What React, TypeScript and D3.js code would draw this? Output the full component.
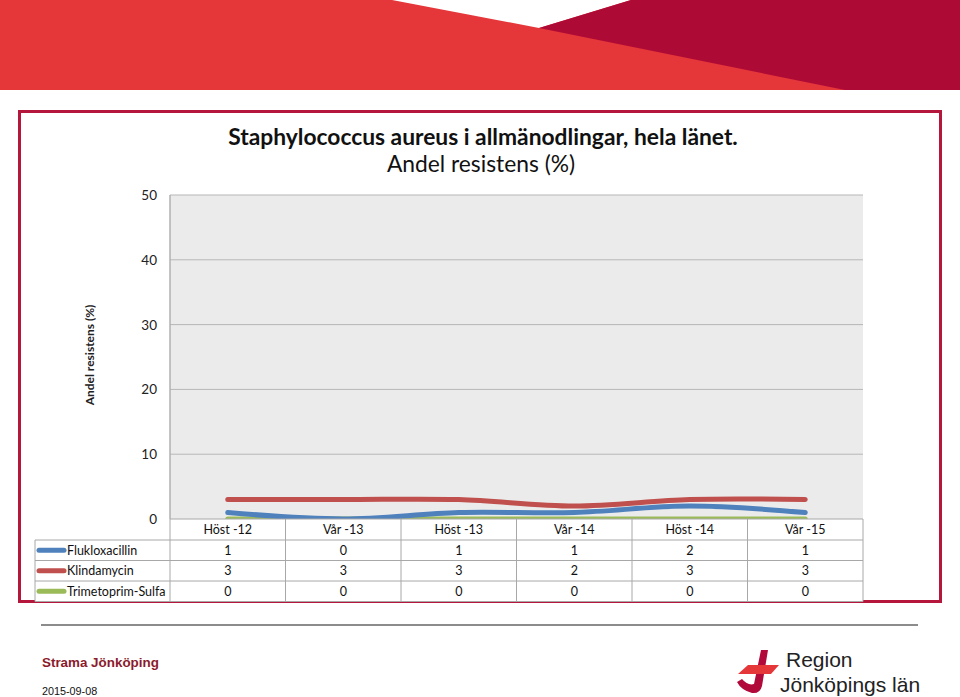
import { useEffect, useRef } from "react";
import * as d3 from "d3";

const periods = ["Höst -12", "Vår -13", "Höst -13", "Vår -14", "Höst -14", "Vår -15"];
const seriesNames = ["Flukloxacillin", "Klindamycin", "Trimetoprim-Sulfa"];
const flukloxacillin = [1, 0, 1, 1, 2, 1];
const klindamycin = [3, 3, 3, 2, 3, 3];
const trimetoprim = [0, 0, 0, 0, 0, 0];
const seriesColors = ["#4f81bd", "#c0504d", "#9bbb59"];
const yTicks = [0, 10, 20, 30, 40, 50];

const W = 960;
const H = 697;
const FONT = "Lato, 'Open Sans', sans-serif";
const ARIAL = "'Liberation Sans', Arial, sans-serif";

export default function App() {
  const svgRef = useRef<SVGSVGElement | null>(null);

  useEffect(() => {
    if (!svgRef.current) return;
    const svg = d3.select(svgRef.current);
    svg.selectAll("*").remove();

    // banner
    svg.append("rect").attr("x", 0).attr("y", 0).attr("width", W).attr("height", 90).attr("fill", "#e5363a");
    svg.append("polygon").attr("points", "392,0 631,0 539,28").attr("fill", "#fff");
    svg.append("polygon").attr("points", "631,0 960,0 960,90 845,90 539,28").attr("fill", "#ae0a36");

    // red frame
    svg.append("rect")
      .attr("x", 19.5).attr("y", 111.5).attr("width", 921).attr("height", 490)
      .attr("fill", "#fff").attr("stroke", "#b5163b").attr("stroke-width", 3);

    // titles
    svg.append("text").attr("x", 483).attr("y", 145).attr("text-anchor", "middle")
      .attr("font-family", FONT).attr("font-size", 22.8).attr("font-weight", "bold").attr("fill", "#111")
      .text("Staphylococcus aureus i allmänodlingar, hela länet.");
    svg.append("text").attr("x", 481).attr("y", 172).attr("text-anchor", "middle")
      .attr("font-family", FONT).attr("font-size", 22.8).attr("fill", "#111")
      .text("Andel resistens (%)");

    const x0 = 170, x1 = 863, yTop = 195, yBot = 519;
    const y = d3.scaleLinear().domain([0, 50]).range([yBot, yTop]);
    const x = d3.scaleBand<string>().domain(periods).range([x0, x1]);
    const cx = (p: string) => (x(p) ?? 0) + x.bandwidth() / 2;

    // plot area
    svg.append("rect").attr("x", x0).attr("y", yTop).attr("width", x1 - x0).attr("height", yBot - yTop).attr("fill", "#ebebeb");
    svg.append("g").selectAll("line").data(yTicks.filter(t => t > 0)).join("line")
      .attr("x1", x0).attr("x2", x1).attr("y1", d => y(d)).attr("y2", d => y(d))
      .attr("stroke", "#b7b7b7").attr("stroke-width", 1);
    svg.append("line").attr("x1", x0).attr("x2", x0).attr("y1", yTop).attr("y2", yBot).attr("stroke", "#b0b0b0").attr("stroke-width", 1.5);

    svg.append("g").selectAll("text").data(yTicks).join("text")
      .attr("x", 157).attr("y", d => y(d) + 5).attr("text-anchor", "end")
      .attr("font-family", FONT).attr("font-size", 13.5).attr("fill", "#222")
      .text(d => d);

    svg.append("text").attr("transform", "translate(94,355) rotate(-90)").attr("text-anchor", "middle")
      .attr("font-family", FONT).attr("font-size", 12).attr("font-weight", "bold").attr("fill", "#222")
      .text("Andel resistens (%)");

    // lines
    const allSeries = [flukloxacillin, klindamycin, trimetoprim];
    const line = d3.line<number>()
      .x((_, i) => cx(periods[i]))
      .y(d => y(d))
      .curve(d3.curveCatmullRom.alpha(0.5));
    [2, 0, 1].forEach(si => {
      svg.append("path").attr("d", line(allSeries[si]) ?? "")
        .attr("fill", "none").attr("stroke", seriesColors[si]).attr("stroke-width", 5)
        .attr("stroke-linecap", "round").attr("stroke-linejoin", "round");
    });

    // data table
    const rowH = 20.5;
    const hdrTop = yBot, hdrBot = 540;
    const legX = 35;
    const tbl = svg.append("g");
    tbl.append("rect").attr("x", x0).attr("y", hdrTop).attr("width", x1 - x0).attr("height", hdrBot - hdrTop).attr("fill", "#fff");
    tbl.append("rect").attr("x", legX).attr("y", hdrBot).attr("width", x1 - legX).attr("height", rowH * 3).attr("fill", "#fff");
    const gridCol = "#a8a8a8";
    tbl.append("line").attr("x1", x0).attr("x2", x1).attr("y1", hdrTop).attr("y2", hdrTop).attr("stroke", gridCol);
    [0, 1, 2, 3].forEach(r => {
      tbl.append("line").attr("x1", legX).attr("x2", x1)
        .attr("y1", hdrBot + r * rowH).attr("y2", hdrBot + r * rowH).attr("stroke", gridCol);
    });
    tbl.append("line").attr("x1", legX).attr("x2", legX).attr("y1", hdrBot).attr("y2", hdrBot + 3 * rowH).attr("stroke", gridCol);
    periods.forEach((p, i) => {
      const xl = x(p) ?? 0;
      tbl.append("line").attr("x1", xl).attr("x2", xl).attr("y1", hdrTop).attr("y2", hdrBot + 3 * rowH).attr("stroke", gridCol);
      if (i === periods.length - 1) {
        tbl.append("line").attr("x1", xl + x.bandwidth()).attr("x2", xl + x.bandwidth())
          .attr("y1", hdrTop).attr("y2", hdrBot + 3 * rowH).attr("stroke", gridCol);
      }
      tbl.append("text").attr("x", cx(p)).attr("y", hdrTop + 14.5).attr("text-anchor", "middle")
        .attr("font-family", FONT).attr("font-size", 12.5).attr("fill", "#111").text(p);
    });
    allSeries.forEach((vals, si) => {
      const ry = hdrBot + si * rowH;
      tbl.append("line").attr("x1", 39).attr("x2", 64).attr("y1", ry + rowH / 2).attr("y2", ry + rowH / 2)
        .attr("stroke", seriesColors[si]).attr("stroke-width", 5).attr("stroke-linecap", "round");
      tbl.append("text").attr("x", 67).attr("y", ry + 14.5)
        .attr("font-family", FONT).attr("font-size", 12.5).attr("fill", "#111").text(seriesNames[si]);
      vals.forEach((v, i) => {
        tbl.append("text").attr("x", cx(periods[i])).attr("y", ry + 14.5).attr("text-anchor", "middle")
          .attr("font-family", FONT).attr("font-size", 12.5).attr("fill", "#111").text(v);
      });
    });

    // footer
    svg.append("line").attr("x1", 41).attr("x2", 918).attr("y1", 625).attr("y2", 625).attr("stroke", "#8c8c8c").attr("stroke-width", 2);
    svg.append("text").attr("x", 42).attr("y", 667)
      .attr("font-family", ARIAL).attr("font-size", 13.4).attr("font-weight", "bold").attr("fill", "#8b1a2b")
      .text("Strama Jönköping");
    svg.append("text").attr("x", 42).attr("y", 695)
      .attr("font-family", ARIAL).attr("font-size", 10.8).attr("fill", "#111")
      .text("2015-09-08");

    // logo
    const logo = svg.append("g");
    logo.append("path").attr("d", "M761,650 L768,650 L762,686 Q760,694 752,693 Q741,690 737,682 L742,679 Q748,686 754,684 Z").attr("fill", "#b0093a");
    logo.append("polygon").attr("points", "748,665 779,665 771,674 738,674").attr("fill", "#e5363a");
    logo.append("text").attr("x", 786).attr("y", 667)
      .attr("font-family", ARIAL).attr("font-size", 21).attr("fill", "#222").text("Region");
    logo.append("text").attr("x", 780).attr("y", 692)
      .attr("font-family", ARIAL).attr("font-size", 21).attr("fill", "#222").text("Jönköpings län");
  }, []);

  return <svg ref={svgRef} width={W} height={H} style={{ position: "absolute", left: 0, top: 0, background: "#fff" }} />;
}
